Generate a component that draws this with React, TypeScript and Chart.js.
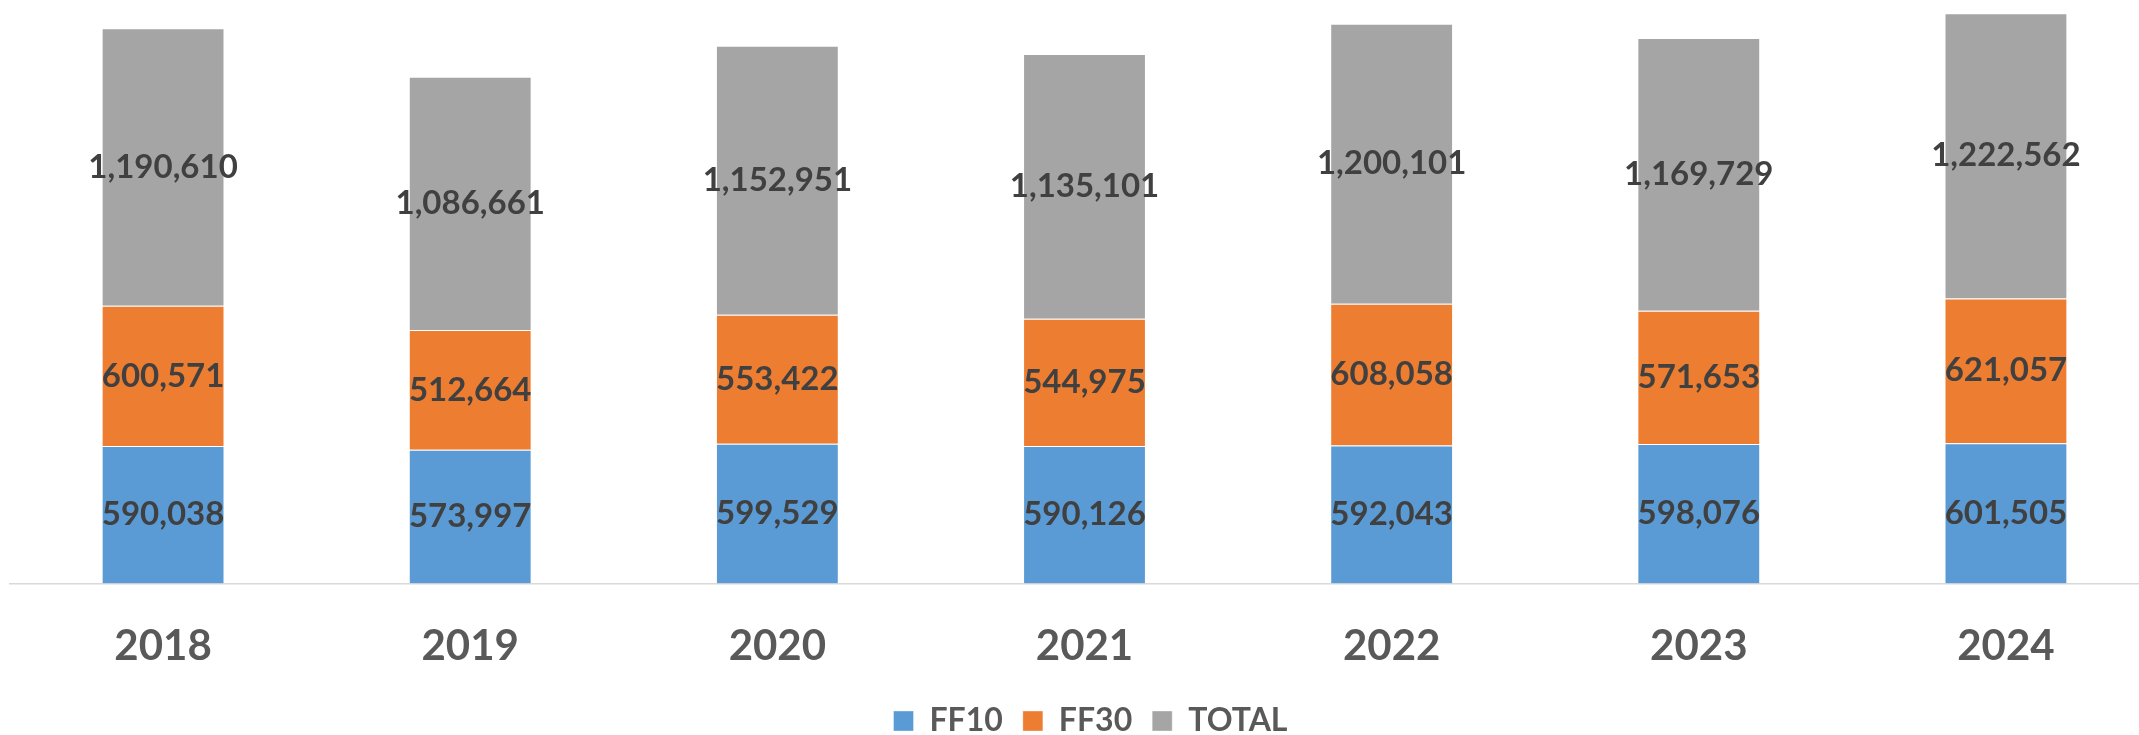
import React, { useEffect, useRef } from "react";
import { Chart, registerables } from "chart.js";

Chart.register(...registerables);

const categories = ["2018", "2019", "2020", "2021", "2022", "2023", "2024"];
const ff10 = [590038, 573997, 599529, 590126, 592043, 598076, 601505];
const ff30 = [600571, 512664, 553422, 544975, 608058, 571653, 621057];
const total = [1190610, 1086661, 1152951, 1135101, 1200101, 1169729, 1222562];
const yMax = 2500000;

const FONT = "Lato, 'Open Sans', sans-serif";
const LEGEND_PAD = 20;

const labelPlugin = {
  id: "segLabels",
  afterDatasetsDraw(chart: any) {
    const ctx = chart.ctx;
    ctx.save();
    ctx.font = `bold 33px ${FONT}`;
    ctx.fillStyle = "#404040";
    ctx.textAlign = "center";
    ctx.textBaseline = "middle";
    chart.data.datasets.forEach((ds: any, di: number) => {
      const meta = chart.getDatasetMeta(di);
      meta.data.forEach((el: any, i: number) => {
        const p = el.getCenterPoint();
        ctx.fillText(Number(ds.data[i]).toLocaleString("en-US"), p.x, p.y);
      });
    });
    ctx.restore();
  },
};

export default function App() {
  const ref = useRef<HTMLCanvasElement>(null);
  useEffect(() => {
    document.body.style.margin = "0";
    document.body.style.overflow = "hidden";
    const chart = new Chart(ref.current!, {
      type: "bar",
      data: {
        labels: categories,
        datasets: [
          { label: "FF10", data: ff10, backgroundColor: "#5B9BD5", borderColor: "rgba(255,255,255,0.35)", borderWidth: 1 },
          { label: "FF30", data: ff30, backgroundColor: "#ED7D31", borderColor: "rgba(255,255,255,0.35)", borderWidth: 1 },
          { label: "TOTAL", data: total, backgroundColor: "#A5A5A5", borderColor: "rgba(255,255,255,0.35)", borderWidth: 1 },
        ],
      },
      options: {
        animation: false,
        responsive: false,
        maintainAspectRatio: false,
        layout: { padding: { left: 9.5, right: 8.5, top: 0.5, bottom: 0 } },
        datasets: { bar: { barPercentage: 0.4, categoryPercentage: 1 } },
        scales: {
          x: {
            stacked: true,
            grid: { display: false, drawTicks: false },
            border: { display: true, color: "#D9D9D9", width: 1.5 },
            ticks: {
              color: "#595959",
              font: { family: FONT, size: 42, weight: "bold", lineHeight: 1.333 },
              padding: 34.5,
            },
            afterFit: (s: any) => {
              s.height = 96.5 + (25 - LEGEND_PAD);
            },
          },
          y: {
            stacked: true,
            display: false,
            min: 0,
            max: yMax,
          },
          yPad: {
            position: "right",
            display: true,
            grid: { display: false, drawTicks: false },
            border: { display: false },
            ticks: { display: false },
            afterFit: (s: any) => {
              s.width = 12;
            },
          },
        },
        plugins: {
          legend: {
            position: "bottom",
            labels: {
              color: "#595959",
              font: { family: FONT, size: 32, weight: "bold" },
              boxWidth: 20,
              boxHeight: 20,
              padding: LEGEND_PAD,
            },
          },
          tooltip: { enabled: false },
        },
      },
      plugins: [labelPlugin],
    });
    return () => chart.destroy();
  }, []);
  return <canvas ref={ref} width={2180} height={747} style={{ display: "block" }} />;
}
